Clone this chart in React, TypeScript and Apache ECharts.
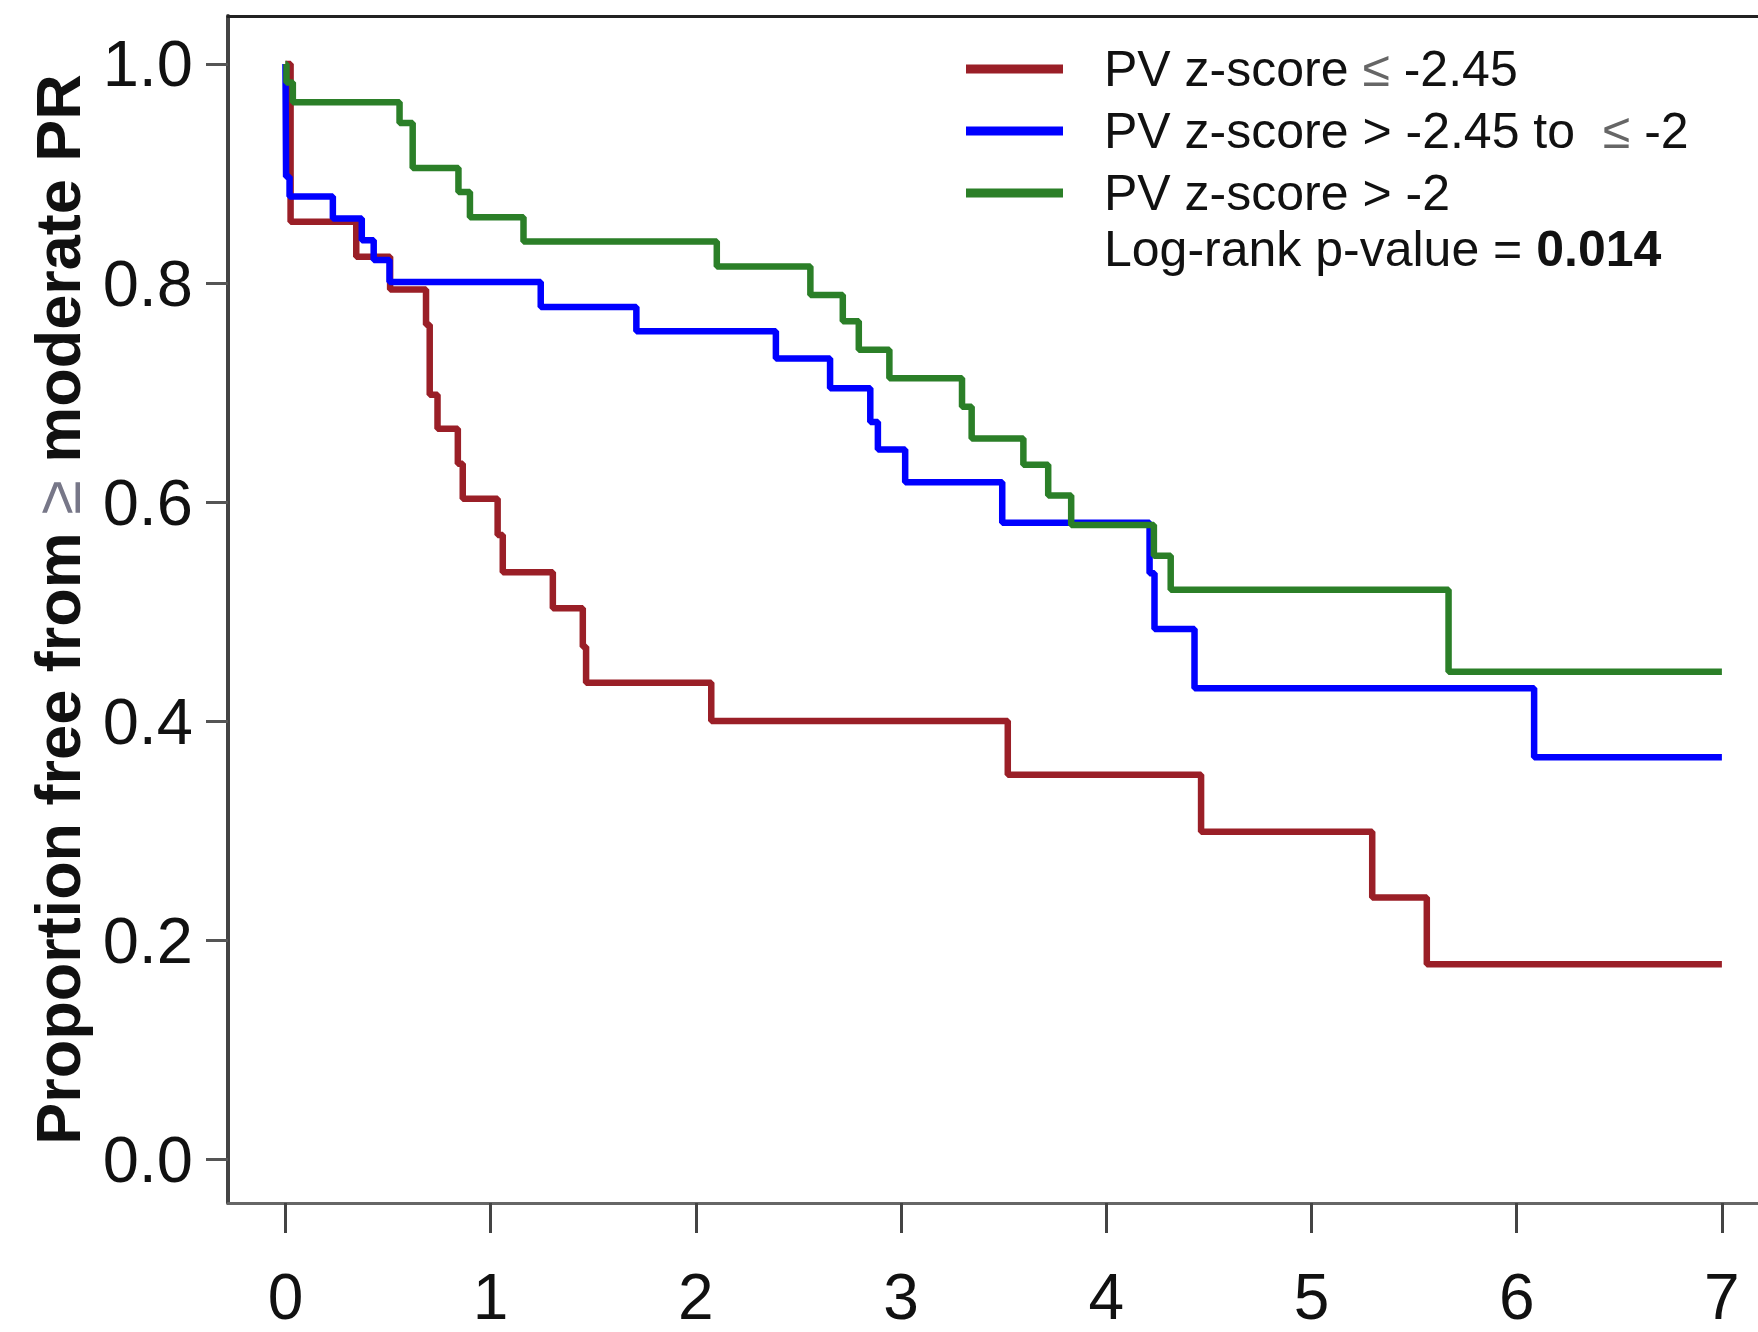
import React, { useEffect, useRef } from "react";
import * as echarts from "echarts";

// Kaplan-Meier step data (time in years, proportion free)
const redTimes = [0, 0.025, 0.345, 0.51, 0.685, 0.703, 0.741, 0.84, 0.864, 1.034, 1.059, 1.303, 1.449, 1.465, 2.075, 3.52, 4.462, 5.296, 5.562, 7.0];
const redValues = [1.0, 0.856, 0.824, 0.794, 0.762, 0.698, 0.667, 0.635, 0.603, 0.57, 0.536, 0.503, 0.468, 0.435, 0.4, 0.351, 0.299, 0.239, 0.178, 0.178];

const blueTimes = [0, 0.003, 0.02, 0.231, 0.372, 0.43, 0.507, 1.244, 1.71, 2.39, 2.654, 2.85, 2.887, 3.02, 3.493, 4.211, 4.235, 4.43, 6.085, 7.0];
const blueValues = [1.0, 0.897, 0.879, 0.859, 0.839, 0.821, 0.801, 0.778, 0.756, 0.731, 0.704, 0.673, 0.648, 0.618, 0.581, 0.535, 0.484, 0.43, 0.367, 0.367];

const greenTimes = [0, 0.005, 0.036, 0.556, 0.62, 0.843, 0.899, 1.16, 2.102, 2.558, 2.716, 2.794, 2.943, 3.297, 3.344, 3.596, 3.717, 3.829, 4.232, 4.314, 5.668, 7.0];
const greenValues = [1.0, 0.983, 0.965, 0.946, 0.905, 0.883, 0.86, 0.838, 0.815, 0.789, 0.765, 0.739, 0.713, 0.687, 0.658, 0.634, 0.606, 0.579, 0.551, 0.52, 0.445, 0.445];

const seriesNames = [
  "PV z-score ≤ -2.45",
  "PV z-score > -2.45 to  ≤ -2",
  "PV z-score > -2",
];
const seriesColors = ["#9a1f27", "#0000ff", "#2b7f28"];

const xTicks = [0, 1, 2, 3, 4, 5, 6, 7];
const yTicks = [0, 0.2, 0.4, 0.6, 0.8, 1.0];

const yTitle = "Proportion free from {s|≥} moderate PR";
const pLabel = "Log-rank p-value = ";
const pValue = "0.014";

const FONT = "'Liberation Sans', Arial, sans-serif";

const X_MIN = -0.28;
const X_MAX = 7.176;
const Y_MIN = -0.04;
const Y_MAX = 1.0438;

function pairs(t: number[], v: number[]) {
  return t.map((x, i) => [x, v[i]]);
}

export default function App() {
  const ref = useRef<HTMLDivElement>(null);

  useEffect(() => {
    document.body.style.margin = "0";
    if (!ref.current) return;
    const chart = echarts.init(ref.current, undefined, { renderer: "svg" });
    const datasets = [
      pairs(redTimes, redValues),
      pairs(blueTimes, blueValues),
      pairs(greenTimes, greenValues),
    ];
    chart.setOption({
      animation: false,
      backgroundColor: "#ffffff",
      grid: {
        left: 228,
        top: 16,
        right: 0,
        bottom: 129,
        show: false,
        containLabel: false,
      },
      xAxis: [
        {
          type: "value",
          min: X_MIN,
          max: X_MAX,
          splitLine: { show: false },
          axisLine: { show: true, onZero: false, lineStyle: { color: "#666666", width: 3 } },
          axisTick: {
            show: true,
            customValues: xTicks,
            length: 30,
            lineStyle: { color: "#444444", width: 3 },
          },
          axisLabel: {
            customValues: xTicks,
            fontSize: 64,
            fontFamily: FONT,
            color: "#111111",
            margin: 62,
            formatter: (v: number) => String(v),
          },
        },
        {
          type: "value",
          position: "top",
          min: X_MIN,
          max: X_MAX,
          splitLine: { show: false },
          axisLine: { show: true, onZero: false, lineStyle: { color: "#222222", width: 3 } },
          axisTick: { show: false },
          axisLabel: { show: false },
        },
      ],
      yAxis: {
        type: "value",
        min: Y_MIN,
        max: Y_MAX,
        name: yTitle,
        nameLocation: "middle",
        nameGap: 139,
        nameRotate: 90,
        nameTextStyle: {
          fontSize: 63,
          fontWeight: "bold",
          fontFamily: FONT,
          color: "#111111",
          rich: {
            s: { fontSize: 63, fontWeight: "normal", color: "#777788", fontFamily: FONT },
          },
        },
        splitLine: { show: false },
        axisLine: { show: true, onZero: false, lineStyle: { color: "#444444", width: 4 } },
        axisTick: {
          show: true,
          customValues: yTicks,
          length: 22,
          lineStyle: { color: "#555555", width: 3 },
        },
        axisLabel: {
          customValues: yTicks,
          fontSize: 65,
          fontFamily: FONT,
          color: "#111111",
          margin: 35,
          formatter: (v: number) => v.toFixed(1),
        },
      },
      legend: {
        orient: "vertical",
        left: 961,
        top: 39,
        itemWidth: 97,
        itemHeight: 9,
        itemGap: 12,
        icon: "rect",
        data: seriesNames,
        formatter: (name: string) => name.replace("≤", "{s|≤}"),
        textStyle: {
          fontSize: 50,
          lineHeight: 50,
          fontFamily: FONT,
          color: "#111111",
          padding: [0, 0, 0, 36],
          rich: {
            s: { fontSize: 50, color: "#666666", fontFamily: FONT },
          },
        },
      },
      graphic: [
        {
          type: "text",
          left: 1104,
          top: 224,
          style: {
            text: "{a|" + pLabel + "}{b|" + pValue + "}",
            rich: {
              a: { fontSize: 50, fontFamily: FONT, fill: "#111111", color: "#111111" },
              b: { fontSize: 50, fontFamily: FONT, fontWeight: "bold", fill: "#111111", color: "#111111" },
            },
          },
        },
      ],
      series: datasets.map((d, i) => ({
        name: seriesNames[i],
        type: "line",
        step: "end",
        symbol: "none",
        xAxisIndex: 0,
        data: d,
        color: seriesColors[i],
        lineStyle: { width: 6.5, color: seriesColors[i] },
        itemStyle: { color: seriesColors[i] },
        z: 2 + i,
      })),
    });
    return () => chart.dispose();
  }, []);

  return <div ref={ref} style={{ width: 1758, height: 1332 }} />;
}
